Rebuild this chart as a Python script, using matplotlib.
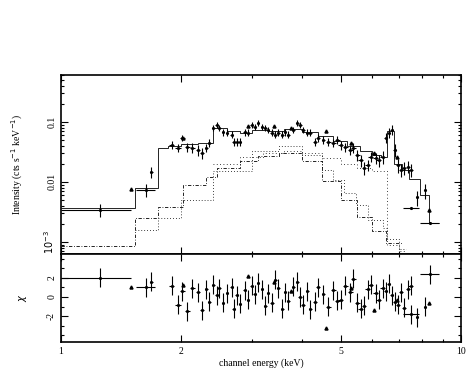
import matplotlib
matplotlib.use("Agg")
import matplotlib.pyplot as plt
from matplotlib.ticker import LogLocator, NullFormatter, FixedLocator, MultipleLocator

plt.rcParams['font.family'] = ['Liberation Serif', 'DejaVu Serif']

# ---- data ----
energy = [1.25, 1.63, 1.68, 1.89, 1.96, 2.01, 2.07, 2.13, 2.20, 2.25, 2.31, 2.35,
          2.40, 2.45, 2.49, 2.54, 2.60, 2.67, 2.70, 2.75, 2.80, 2.88, 2.93, 3.00,
          3.05, 3.11, 3.18, 3.24, 3.29, 3.37, 3.43, 3.49, 3.57, 3.63, 3.70, 3.81,
          3.90, 3.96, 4.03, 4.13, 4.20, 4.32, 4.40, 4.53, 4.66, 4.80, 4.91, 5.00,
          5.14, 5.29, 5.38, 5.51, 5.61, 5.71, 5.84, 5.94, 6.12, 6.22, 6.37, 6.48,
          6.59, 6.71, 6.83, 6.95, 7.07, 7.19, 7.36, 7.49, 7.50, 7.75, 8.12, 8.35]
energy_err = [0.25, 0.09, 0.015, 0.03, 0.03, 0.03, 0.03, 0.03, 0.03, 0.025, 0.025, 0.02,
              0.02, 0.02, 0.02, 0.02, 0.02, 0.025, 0.02, 0.02, 0.02, 0.025, 0.02, 0.025,
              0.025, 0.025, 0.025, 0.025, 0.025, 0.03, 0.03, 0.03, 0.03, 0.03, 0.03, 0.04,
              0.04, 0.04, 0.04, 0.04, 0.04, 0.05, 0.05, 0.05, 0.06, 0.06, 0.06, 0.06,
              0.07, 0.07, 0.07, 0.07, 0.07, 0.07, 0.08, 0.08, 0.09, 0.09, 0.09, 0.07,
              0.06, 0.06, 0.06, 0.07, 0.08, 0.08, 0.09, 0.10, 0.35, 0.05, 0.05, 0.45]
intensity = [0.0034, 0.0074, 0.0147, 0.041, 0.037, 0.054, 0.038, 0.037, 0.034, 0.030, 0.037, 0.045,
             0.079, 0.089, 0.079, 0.068, 0.066, 0.061, 0.046, 0.046, 0.046, 0.068, 0.066, 0.089,
             0.082, 0.096, 0.082, 0.079, 0.074, 0.066, 0.061, 0.066, 0.061, 0.068, 0.061, 0.074,
             0.096, 0.089, 0.074, 0.066, 0.066, 0.046, 0.054, 0.050, 0.046, 0.045, 0.050, 0.041,
             0.038, 0.034, 0.037, 0.028, 0.023, 0.017, 0.019, 0.026, 0.025, 0.023, 0.026, 0.054,
             0.066, 0.074, 0.034, 0.019, 0.016, 0.017, 0.018, 0.016, 0.0037, 0.0055, 0.0072, 0.00207]
intensity_err = [0.0008, 0.0017, 0.003, 0.006, 0.006, 0.007, 0.007, 0.007, 0.007, 0.006, 0.006, 0.007,
                 0.010, 0.011, 0.010, 0.009, 0.009, 0.008, 0.007, 0.007, 0.007, 0.009, 0.009, 0.010,
                 0.010, 0.011, 0.010, 0.010, 0.009, 0.009, 0.008, 0.009, 0.008, 0.009, 0.008, 0.009,
                 0.011, 0.010, 0.009, 0.009, 0.009, 0.007, 0.008, 0.007, 0.007, 0.007, 0.008, 0.007,
                 0.007, 0.006, 0.007, 0.006, 0.005, 0.004, 0.004, 0.005, 0.005, 0.005, 0.006, 0.010,
                 0.012, 0.013, 0.008, 0.005, 0.004, 0.004, 0.004, 0.004, 0.0001, 0.0015, 0.0020, 0.0001]
residual = [2.0, 1.0, 1.6, 1.2, -0.8, 0.6, -1.5, 0.9, 0.5, -1.4, 0.8, -0.5,
            1.3, 0.2, 0.9, -0.6, 0.4, 1.0, -1.2, 0.2, -0.7, 0.7, -0.3, 1.2,
            0.3, 1.5, 0.8, -0.9, 0.4, -0.6, 1.8, 0.9, -1.2, 0.5, -0.4, 1.1,
            1.6, 0.0, -0.8, 0.6, -1.3, -0.5, 1.0, 0.3, -1.0, 0.7, -0.4, -0.3,
            1.2, 0.5, 1.9, -0.6, -1.2, -0.9, 0.8, 1.3, 0.4, -0.3, 0.9, 0.6,
            1.4, 0.2, -0.5, -0.8, 0.5, -1.1, 0.8, 1.2, -1.8, -2.1, -1.0, 2.4]

# second data set (small triangles)
tri_energy = [1.50, 2.02, 2.93, 3.40, 3.75, 4.60, 5.30, 6.05, 6.90, 8.31]
tri_intensity = [0.0075, 0.054, 0.085, 0.085, 0.078, 0.070, 0.045, 0.030, 0.026, 0.0034]
tri_residual = [1.0, 1.3, 2.2, 1.6, 0.6, -3.2, 0.9, -1.4, -0.3, -0.6]

# models (step functions: edges / values)
model_edges = [1.0, 1.53, 1.75, 1.85, 2.0, 2.2, 2.4, 2.6, 2.8, 3.0, 3.3, 3.6, 4.0, 4.4,
               4.8, 5.2, 5.6, 6.0, 6.3, 6.55, 6.8, 7.1, 7.4, 7.9, 8.3, 8.8]
model_total = [0.0037, 0.008, 0.036, 0.040, 0.042, 0.044, 0.080, 0.070, 0.065, 0.072, 0.070,
               0.075, 0.068, 0.058, 0.048, 0.040, 0.032, 0.028, 0.026, 0.070, 0.020, 0.016,
               0.011, 0.006, 0.0021]

comp_a_edges = [1.0, 1.53, 1.75, 2.02, 2.3, 2.45, 2.8, 3.1, 3.5, 4.0, 4.5, 5.0, 5.5, 6.0, 6.5, 7.1]
comp_a = [0.00086, 0.0025, 0.0038, 0.0088, 0.012, 0.017, 0.022, 0.027, 0.030, 0.022, 0.0105,
          0.0050, 0.0026, 0.0015, 0.00095]

comp_b_edges = [1.53, 1.75, 2.0, 2.4, 3.0, 3.5, 4.0, 4.5, 4.8, 5.1, 5.45, 5.84, 6.37, 6.55, 7.0, 7.3]
comp_b = [0.0016, 0.0025, 0.0050, 0.015, 0.032, 0.040, 0.028, 0.016, 0.0108, 0.0065, 0.0041,
          0.0023, 0.0017, 0.0011, 0.00075]

comp_c_edges = [2.4, 2.8, 3.2, 3.6, 4.0, 4.5, 5.0, 5.5, 6.0, 6.55, 7.0, 7.3]
comp_c = [0.020, 0.026, 0.030, 0.032, 0.030, 0.025, 0.020, 0.017, 0.015, 0.0009, 0.0007]

# ---- figure ----
fig = plt.figure(figsize=(4.69, 3.74), dpi=100)
W, H = 469, 374
ax1 = fig.add_axes([61 / W, 1 - 254 / H, 400 / W, 179 / H])
ax2 = fig.add_axes([61 / W, 1 - 342 / H, 400 / W, 88 / H], sharex=ax1)

lw = 0.8
ax1.errorbar(energy, intensity, xerr=energy_err, yerr=intensity_err, fmt='none',
             ecolor='black', elinewidth=lw, capsize=0)
ax1.plot(energy, intensity, 'k.', ms=2.5)
ax1.plot(tri_energy, tri_intensity, 'k^', ms=2.2)
ax1.stairs(model_total, model_edges, baseline=None, color='black', lw=0.6)
ax1.stairs(comp_a, comp_a_edges, baseline=None, color='black', lw=0.6,
           linestyle=(0, (4, 2, 1, 2)))
ax1.stairs(comp_b, comp_b_edges, baseline=None, color='black', lw=0.6,
           linestyle=(0, (1, 2.5)))
ax1.stairs(comp_c, comp_c_edges, baseline=None, color='black', lw=0.6,
           linestyle=(0, (1, 3)))

ax1.set_xscale('log')
ax1.set_yscale('log')
ax1.set_xlim(1, 10)
ax1.set_ylim(6.3e-4, 0.6)
ax1.yaxis.set_major_locator(FixedLocator([1e-3, 1e-2, 1e-1]))
ax1.set_yticklabels([r'$10^{-3}$', '0.01', '0.1'], rotation=90, va='center')
ax1.yaxis.set_minor_locator(LogLocator(base=10, subs=range(2, 10)))
ax1.yaxis.set_minor_formatter(NullFormatter())
ax1.set_ylabel(r'Intensity (cts s$^{-1}$ keV$^{-1}$)', fontsize=7)
ax1.yaxis.set_label_coords(-0.09, 0.5)
plt.setp(ax1.get_xticklabels(), visible=False)

ax2.errorbar(energy, residual, xerr=energy_err, yerr=[1.0] * len(residual), fmt='none',
             ecolor='black', elinewidth=lw, capsize=0)
ax2.plot(energy, residual, 'k.', ms=2.5)
ax2.plot(tri_energy, tri_residual, 'k^', ms=2.2)
ax2.set_ylim(-4.7, 4.5)
ax2.yaxis.set_major_locator(FixedLocator([-2, 0, 2]))
ax2.set_yticklabels(['-2', '0', '2'], rotation=90, va='center')
ax2.yaxis.set_minor_locator(MultipleLocator(1))
ax2.set_ylabel(r'$\chi$', fontsize=7, rotation=90)
ax2.yaxis.set_label_coords(-0.08, 0.5)
ax2.set_xscale('log')
ax2.set_xlim(1, 10)
ax2.xaxis.set_major_locator(FixedLocator([1, 2, 5, 10]))
ax2.set_xticklabels(['1', '2', '5', '10'])
ax2.xaxis.set_minor_locator(LogLocator(base=10, subs=range(2, 10)))
ax2.xaxis.set_minor_formatter(NullFormatter())
ax2.set_xlabel('channel energy (keV)', fontsize=7, labelpad=2)

for ax in (ax1, ax2):
    ax.tick_params(which='both', direction='in', top=True, right=True, labelsize=7,
                   width=0.8)
    ax.tick_params(which='major', length=5)
    ax.tick_params(which='minor', length=2.5)
    for s in ax.spines.values():
        s.set_linewidth(1.2)

fig.savefig('out.png', dpi=100)
